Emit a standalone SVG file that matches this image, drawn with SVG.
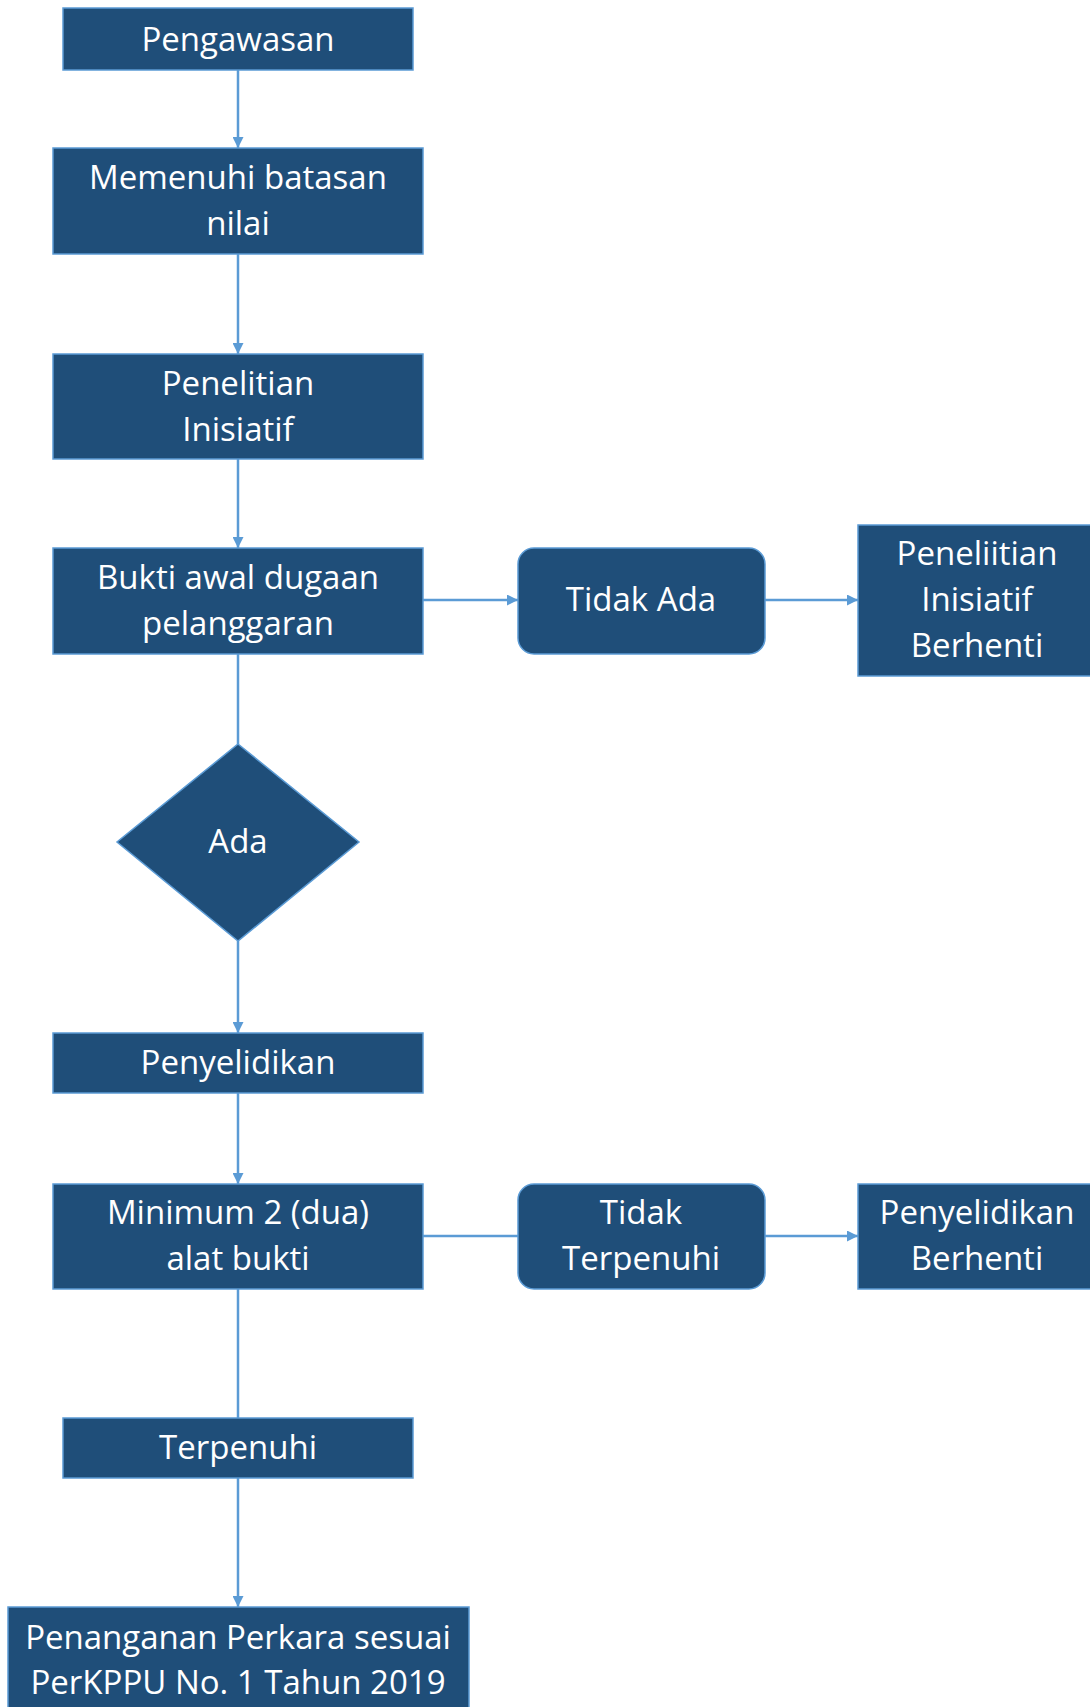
<svg xmlns="http://www.w3.org/2000/svg" width="1090" height="1707" viewBox="0 0 1090 1707">
  <style>
    .box { fill: #1F4E79; stroke: #5B9BD5; stroke-width: 1.5; }
    .lbl { fill: #FFFFFF; font-family: "Open Sans", "Liberation Sans", sans-serif; font-size: 33px; text-anchor: middle; }
    .wire { fill: none; stroke: #5B9BD5; stroke-width: 2.5; }
  </style>
  <defs>
    <marker id="arrow" viewBox="0 0 10 10" refX="10" refY="5" markerWidth="11" markerHeight="11" markerUnits="userSpaceOnUse" orient="auto">
      <path d="M0,0 L10,5 L0,10 Z" fill="#5B9BD5"/>
    </marker>
  </defs>
  <rect width="1090" height="1707" fill="#FFFFFF"/>

  <g id="connectors">
    <path class="wire" d="M238,70 V148" marker-end="url(#arrow)"/>
    <path class="wire" d="M238,254 V354" marker-end="url(#arrow)"/>
    <path class="wire" d="M238,459 V548" marker-end="url(#arrow)"/>
    <path class="wire" d="M238,654 V744"/>
    <path class="wire" d="M238,941 V1033" marker-end="url(#arrow)"/>
    <path class="wire" d="M238,1093 V1184" marker-end="url(#arrow)"/>
    <path class="wire" d="M238,1289 V1418"/>
    <path class="wire" d="M238,1478 V1607" marker-end="url(#arrow)"/>
    <path class="wire" d="M422,600 H518" marker-end="url(#arrow)"/>
    <path class="wire" d="M765,600 H858" marker-end="url(#arrow)"/>
    <path class="wire" d="M422,1236 H518"/>
    <path class="wire" d="M765,1236 H858" marker-end="url(#arrow)"/>
  </g>

  <g id="pengawasan">
    <rect class="box" x="63" y="8" width="350" height="62"/>
    <text class="lbl" x="238" y="51">Pengawasan</text>
  </g>

  <g id="memenuhi-batasan">
    <rect class="box" x="53" y="148" width="370" height="106"/>
    <text class="lbl" x="238" y="189">Memenuhi batasan</text>
    <text class="lbl" x="238" y="235">nilai</text>
  </g>

  <g id="penelitian-inisiatif">
    <rect class="box" x="53" y="354" width="370" height="105"/>
    <text class="lbl" x="238" y="395">Penelitian</text>
    <text class="lbl" x="238" y="441">Inisiatif</text>
  </g>

  <g id="bukti-awal">
    <rect class="box" x="53" y="548" width="370" height="106"/>
    <text class="lbl" x="238" y="589">Bukti awal dugaan</text>
    <text class="lbl" x="238" y="635">pelanggaran</text>
  </g>

  <g id="tidak-ada">
    <rect class="box" x="518" y="548" width="247" height="106" rx="16" ry="16"/>
    <text class="lbl" x="641" y="611">Tidak Ada</text>
  </g>

  <g id="penelitian-berhenti">
    <rect class="box" x="858" y="525" width="240" height="151"/>
    <text class="lbl" x="977" y="565">Peneliitian</text>
    <text class="lbl" x="977" y="611">Inisiatif</text>
    <text class="lbl" x="977" y="657">Berhenti</text>
  </g>

  <g id="ada">
    <path class="box" d="M238,744 L359,842 L238,941 L117,842 Z" stroke="none"/>
    <text class="lbl" x="238" y="853">Ada</text>
  </g>

  <g id="penyelidikan">
    <rect class="box" x="53" y="1033" width="370" height="60"/>
    <text class="lbl" x="238" y="1074">Penyelidikan</text>
  </g>

  <g id="minimum-alat-bukti">
    <rect class="box" x="53" y="1184" width="370" height="105"/>
    <text class="lbl" x="238" y="1224">Minimum 2 (dua)</text>
    <text class="lbl" x="238" y="1270">alat bukti</text>
  </g>

  <g id="tidak-terpenuhi">
    <rect class="box" x="518" y="1184" width="247" height="105" rx="16" ry="16"/>
    <text class="lbl" x="641" y="1224">Tidak</text>
    <text class="lbl" x="641" y="1270">Terpenuhi</text>
  </g>

  <g id="penyelidikan-berhenti">
    <rect class="box" x="858" y="1184" width="240" height="105"/>
    <text class="lbl" x="977" y="1224">Penyelidikan</text>
    <text class="lbl" x="977" y="1270">Berhenti</text>
  </g>

  <g id="terpenuhi">
    <rect class="box" x="63" y="1418" width="350" height="60"/>
    <text class="lbl" x="238" y="1459">Terpenuhi</text>
  </g>

  <g id="penanganan-perkara">
    <rect class="box" x="8" y="1607" width="461" height="110"/>
    <text class="lbl" x="238" y="1649">Penanganan Perkara sesuai</text>
    <text class="lbl" x="238" y="1694">PerKPPU No. 1 Tahun 2019</text>
  </g>
</svg>
